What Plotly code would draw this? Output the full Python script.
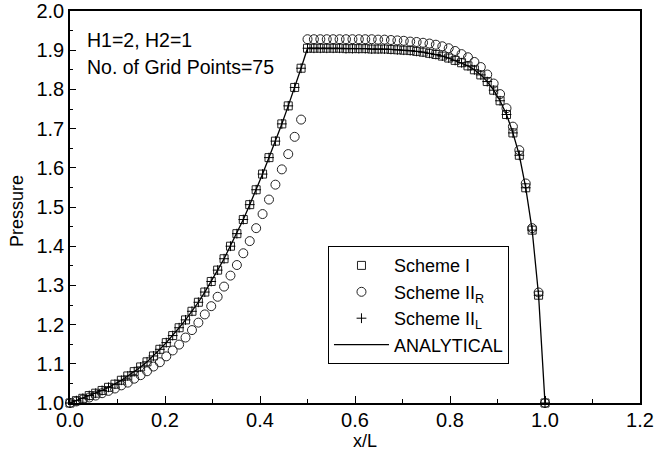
import plotly.graph_objects as go

# grid: 75 points on [0, 1]
n_points = 75
x_over_L = [i / (n_points - 1) for i in range(n_points)]

scheme_I = [
    1.000, 1.006, 1.012, 1.019, 1.025, 1.032, 1.040, 1.048, 1.058, 1.069,
    1.080, 1.092, 1.105, 1.120, 1.137, 1.154, 1.172, 1.192, 1.212, 1.234,
    1.257, 1.283, 1.310, 1.339, 1.368, 1.400, 1.432, 1.468, 1.506, 1.544,
    1.584, 1.626, 1.668, 1.712, 1.758, 1.805, 1.854, 1.905, 1.905, 1.905,
    1.905, 1.905, 1.905, 1.904, 1.904, 1.904, 1.904, 1.903, 1.903, 1.903,
    1.902, 1.901, 1.900, 1.899, 1.897, 1.895, 1.892, 1.889, 1.885, 1.880,
    1.874, 1.868, 1.860, 1.850, 1.837, 1.820, 1.798, 1.771, 1.736, 1.689,
    1.632, 1.549, 1.441, 1.275, 1.000,
]

scheme_IIR = [
    1.000, 1.004, 1.009, 1.014, 1.019, 1.025, 1.031, 1.037, 1.045, 1.052,
    1.062, 1.071, 1.081, 1.093, 1.104, 1.119, 1.134, 1.149, 1.167, 1.186,
    1.205, 1.226, 1.247, 1.271, 1.297, 1.325, 1.352, 1.382, 1.413, 1.446,
    1.482, 1.519, 1.557, 1.596, 1.635, 1.679, 1.723, 1.928, 1.928, 1.928,
    1.928, 1.928, 1.928, 1.928, 1.928, 1.928, 1.928, 1.928, 1.927, 1.927,
    1.926, 1.925, 1.924, 1.922, 1.921, 1.919, 1.917, 1.914, 1.910, 1.905,
    1.898, 1.890, 1.882, 1.870, 1.857, 1.838, 1.815, 1.788, 1.752, 1.705,
    1.645, 1.560, 1.446, 1.282, 1.000,
]

scheme_IIL = [
    1.000, 1.006, 1.012, 1.019, 1.025, 1.032, 1.040, 1.048, 1.058, 1.069,
    1.080, 1.092, 1.105, 1.120, 1.137, 1.154, 1.172, 1.192, 1.212, 1.234,
    1.257, 1.283, 1.310, 1.339, 1.368, 1.400, 1.432, 1.468, 1.506, 1.544,
    1.584, 1.626, 1.668, 1.712, 1.758, 1.805, 1.854, 1.905, 1.905, 1.905,
    1.905, 1.905, 1.905, 1.904, 1.904, 1.904, 1.904, 1.903, 1.903, 1.903,
    1.902, 1.901, 1.900, 1.899, 1.897, 1.895, 1.892, 1.889, 1.885, 1.880,
    1.874, 1.868, 1.860, 1.850, 1.837, 1.820, 1.798, 1.771, 1.736, 1.689,
    1.632, 1.549, 1.441, 1.275, 1.000,
]

analytical = [
    1.000, 1.006, 1.012, 1.019, 1.025, 1.032, 1.040, 1.048, 1.058, 1.069,
    1.080, 1.092, 1.105, 1.120, 1.137, 1.154, 1.172, 1.192, 1.212, 1.234,
    1.257, 1.283, 1.310, 1.339, 1.368, 1.400, 1.432, 1.468, 1.506, 1.544,
    1.584, 1.626, 1.668, 1.712, 1.758, 1.805, 1.854, 1.905, 1.905, 1.905,
    1.905, 1.905, 1.905, 1.904, 1.904, 1.904, 1.904, 1.903, 1.903, 1.903,
    1.902, 1.901, 1.900, 1.899, 1.897, 1.895, 1.892, 1.889, 1.885, 1.880,
    1.874, 1.868, 1.860, 1.850, 1.837, 1.820, 1.798, 1.771, 1.736, 1.689,
    1.632, 1.549, 1.441, 1.275, 1.000,
]

x_ticks = [0.0, 0.2, 0.4, 0.6, 0.8, 1.0, 1.2]
y_ticks = [1.0, 1.1, 1.2, 1.3, 1.4, 1.5, 1.6, 1.7, 1.8, 1.9, 2.0]

FONT = "Liberation Sans, Arial, sans-serif"
TICK_SIZE = 20

fig = go.Figure()
fig.add_trace(go.Scatter(
    x=x_over_L, y=scheme_I, mode="markers", name="Scheme I",
    marker=dict(symbol="square-open", size=8, color="#222",
                line=dict(width=1, color="#222")),
    cliponaxis=False,
))
fig.add_trace(go.Scatter(
    x=x_over_L, y=scheme_IIR, mode="markers", name="Scheme II<sub>R</sub>",
    marker=dict(symbol="circle-open", size=9, color="#222",
                line=dict(width=1, color="#222")),
    cliponaxis=False,
))
fig.add_trace(go.Scatter(
    x=x_over_L, y=scheme_IIL, mode="markers", name="Scheme II<sub>L</sub>",
    marker=dict(symbol="cross-thin-open", size=7, color="#000",
                line=dict(width=1, color="#000")),
    cliponaxis=False,
))
fig.add_trace(go.Scatter(
    x=x_over_L, y=analytical, mode="lines", name="ANALYTICAL",
    line=dict(color="black", width=1.3),
))

fig.update_layout(
    width=665, height=456,
    margin=dict(l=70, r=25, t=11, b=53, autoexpand=False),
    paper_bgcolor="white", plot_bgcolor="white",
    font=dict(family=FONT, size=18, color="black"),
    showlegend=True,
    legend=dict(
        x=0.4526, y=0.40, xanchor="left", yanchor="top",
        bordercolor="black", borderwidth=1, bgcolor="white",
        font=dict(family=FONT, size=18, color="black"),
        tracegroupgap=0, itemwidth=55,
    ),
    annotations=[
        dict(text="H1=2, H2=1", xref="paper", yref="paper", x=0.026, y=0.926,
             xanchor="left", yanchor="middle", showarrow=False,
             font=dict(family=FONT, size=19.5)),
        dict(text="No. of Grid Points=75", xref="paper", yref="paper", x=0.026,
             y=0.857, xanchor="left", yanchor="middle", showarrow=False,
             font=dict(family=FONT, size=19.5)),
        dict(text="Pressure", xref="paper", yref="paper", x=-0.093, y=0.49,
             xanchor="center", yanchor="middle", textangle=-90, showarrow=False,
             font=dict(family=FONT, size=18)),
        dict(text="x/L", xref="paper", yref="paper", x=0.517, y=-0.098,
             xanchor="center", yanchor="middle", showarrow=False,
             font=dict(family=FONT, size=18)),
    ],
)

fig.update_xaxes(
    range=[0, 1.2], tickvals=x_ticks, ticktext=[f"{v:.1f}" for v in x_ticks],
    ticks="inside", ticklen=7, tickwidth=1, tickcolor="black",
    minor=dict(tickvals=[0.1, 0.3, 0.5, 0.7, 0.9, 1.1], ticks="inside",
               ticklen=4, tickcolor="black"),
    showline=True, linecolor="black", linewidth=1.5, mirror=True,
    showgrid=False, zeroline=False, automargin=False,
    ticklabelstandoff=-2, ticklabeloverflow="allow",
    tickfont=dict(family=FONT, size=TICK_SIZE),
)
fig.update_yaxes(
    range=[1.0, 2.0], tickvals=y_ticks, ticktext=[f"{v:.1f}" for v in y_ticks],
    ticks="inside", ticklen=6, tickwidth=1, tickcolor="black",
    minor=dict(tickvals=[1.05 + 0.1 * k for k in range(10)], ticks="inside",
               ticklen=3, tickcolor="black"),
    showline=True, linecolor="black", linewidth=1.5, mirror=True,
    showgrid=False, zeroline=False, automargin=False,
    ticklabeloverflow="allow",
    tickfont=dict(family=FONT, size=TICK_SIZE),
)

# remove the default 8px page margin so the figure fills the window exactly
fig.write_html("out.html", config={"displayModeBar": False},
               post_script="document.body.style.margin='0';")
